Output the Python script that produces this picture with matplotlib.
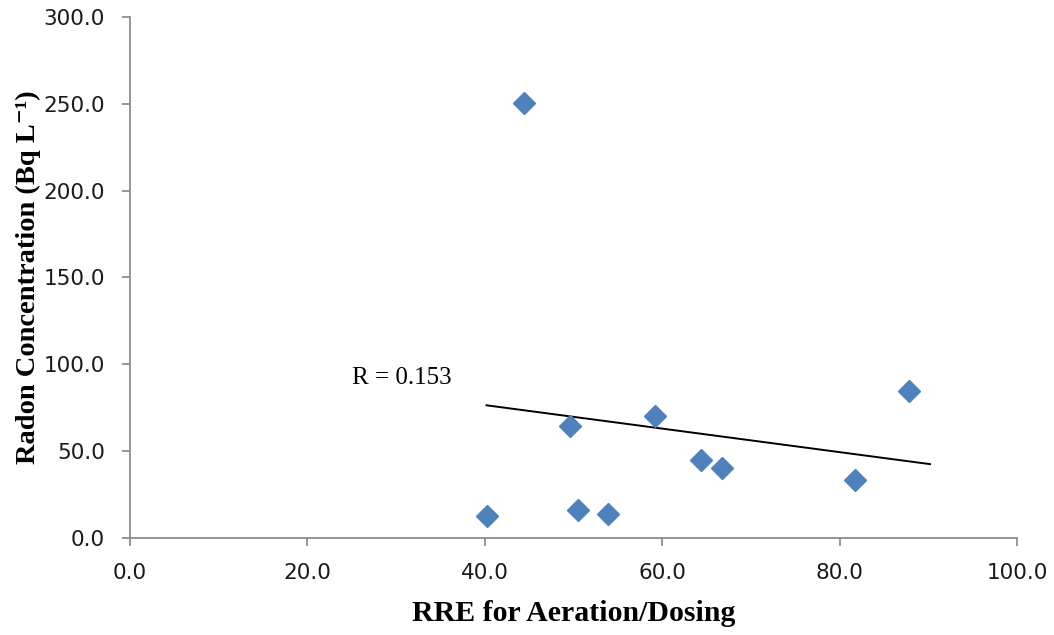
import numpy as np
import matplotlib
matplotlib.use("Agg")
import matplotlib.pyplot as plt

#%%==============================================================================
# Data

rre = [40.2, 44.4, 49.6, 50.5, 53.9, 59.2, 64.4, 66.7, 81.7, 87.8]
radon = [12.7, 250.4, 64.5, 16.1, 13.8, 70.2, 44.9, 40.3, 33.4, 84.6]
trend_end = 90.2

x_ticks = [0, 20, 40, 60, 80, 100]
y_ticks = [0, 50, 100, 150, 200, 250, 300]

#%%==============================================================================
# Linear fit (least squares) and correlation

x = np.array(rre)
y = np.array(radon)
slope, intercept = np.polyfit(x, y, 1)
r = abs(np.corrcoef(x, y)[0, 1])
xfit = np.array([x.min(), trend_end])
yfit = slope * xfit + intercept

#%%==============================================================================
# Plot

fig = plt.figure(figsize=(10.54, 6.35), dpi=100)
ax = fig.add_axes([0.1233, 0.1528, 0.8416, 0.8204])

ax.plot(x, y, linestyle="none", marker="D", markersize=11, color="#4F81BD",
        markeredgecolor="#4F81BD", zorder=3)
ax.plot(xfit, yfit, color="black", linewidth=1.4, zorder=2)

ax.text(25.0, 92, "R = %.3f" % 0.153, family="Liberation Serif", fontsize=18,
        va="center", ha="left")

ax.set_xlim(0, 100)
ax.set_ylim(0, 300)
ax.set_xticks(x_ticks)
ax.set_yticks(y_ticks)
ax.set_xticklabels(["%.1f" % v for v in x_ticks])
ax.set_yticklabels(["%.1f" % v for v in y_ticks])

for s in ["top", "right"]:
    ax.spines[s].set_visible(False)
for s in ["left", "bottom"]:
    ax.spines[s].set_color("#8C8C8C")
    ax.spines[s].set_linewidth(1.3)
ax.tick_params(axis="both", direction="out", length=6, width=1.3, color="#8C8C8C",
               labelsize=15.5, labelcolor="#1a1a1a")
ax.tick_params(axis="x", pad=12)
ax.tick_params(axis="y", pad=12)

ax.set_xlabel("RRE for Aeration/Dosing", family="Liberation Serif", fontweight="bold",
              fontsize=21.5, labelpad=12)
ax.set_ylabel("Radon Concentration (Bq L\u207b\u00b9)", family=["Liberation Serif", "DejaVu Serif"],
              fontweight="bold", fontsize=20.5, labelpad=2)

fig.savefig("out.png", dpi=100)
